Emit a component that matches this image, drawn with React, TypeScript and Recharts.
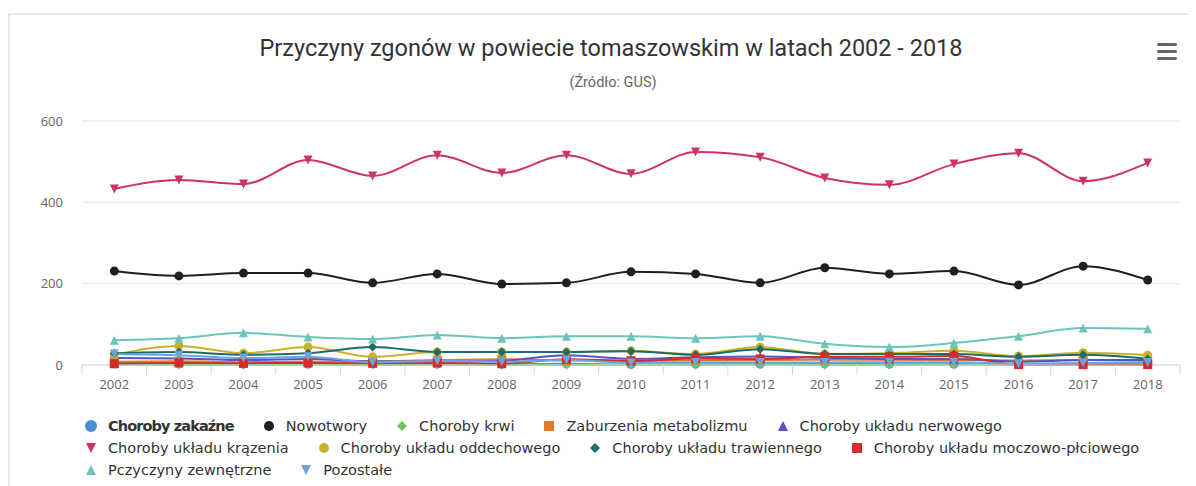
import { LineChart, Line, XAxis, YAxis, CartesianGrid, Legend } from 'recharts'

const years = [2002, 2003, 2004, 2005, 2006, 2007, 2008, 2009, 2010, 2011, 2012, 2013, 2014, 2015, 2016, 2017, 2018]

const zakazne = [5, 3, 2, 2, 3, 2, 2, 3, 1, 2, 2, 3, 2, 2, 2, 3, 2]
const nowotwory = [231, 219, 226, 226, 202, 224, 199, 202, 229, 224, 202, 239, 224, 231, 197, 243, 209]
const krwi = [1, 0, 0, 1, 0, 1, 0, 0, 1, 0, 1, 0, 0, 1, 0, 1, 0]
const metabolizm = [8, 9, 7, 8, 9, 12, 14, 11, 10, 11, 12, 13, 13, 12, 11, 12, 10]
const nerwowy = [17, 16, 12, 15, 9, 8, 10, 24, 15, 19, 21, 18, 15, 15, 8, 12, 12]
const krazenia = [433, 455, 445, 504, 465, 516, 472, 516, 470, 524, 511, 460, 443, 494, 521, 452, 497]
const oddechowy = [25, 47, 29, 44, 20, 32, 32, 32, 35, 27, 44, 27, 29, 35, 22, 30, 24]
const trawienny = [29, 32, 25, 29, 44, 32, 32, 32, 34, 25, 39, 27, 27, 27, 20, 25, 15]
const moczowy = [3, 5, 4, 5, 4, 5, 3, 14, 10, 16, 15, 20, 20, 22, 1, 1, 1]
const zewnetrzne = [61, 66, 79, 69, 64, 74, 66, 71, 71, 66, 71, 52, 44, 54, 71, 91, 89]
const pozostale = [27, 24, 17, 20, 7, 10, 8, 12, 5, 6, 6, 6, 7, 7, 3, 5, 6]

const yTicks = [0, 200, 400, 600]

type Shape = 'circle' | 'diamond' | 'square' | 'triangle' | 'triangle-down'

const SERIES: { key: string; name: string; color: string; shape: Shape; values: number[]; bold?: boolean }[] = [
  { key: 'zakazne', name: 'Choroby zakaźne', color: '#4a8fd6', shape: 'circle', values: zakazne, bold: true },
  { key: 'nowotwory', name: 'Nowotwory', color: '#1f1f1f', shape: 'circle', values: nowotwory },
  { key: 'krwi', name: 'Choroby krwi', color: '#6acb5c', shape: 'diamond', values: krwi },
  { key: 'metabolizm', name: 'Zaburzenia metabolizmu', color: '#e07a2a', shape: 'square', values: metabolizm },
  { key: 'nerwowy', name: 'Choroby układu nerwowego', color: '#5454c8', shape: 'triangle', values: nerwowy },
  { key: 'krazenia', name: 'Choroby układu krązenia', color: '#cf3461', shape: 'triangle-down', values: krazenia },
  { key: 'oddechowy', name: 'Choroby układu oddechowego', color: '#c9b22a', shape: 'circle', values: oddechowy },
  { key: 'trawienny', name: 'Choroby układu trawiennego', color: '#1d6b6b', shape: 'diamond', values: trawienny },
  { key: 'moczowy', name: 'Choroby układu moczowo-płciowego', color: '#d42c2c', shape: 'square', values: moczowy },
  { key: 'zewnetrzne', name: 'Pczyczyny zewnętrzne', color: '#6cc5bb', shape: 'triangle', values: zewnetrzne },
  { key: 'pozostale', name: 'Pozostałe', color: '#6aa6de', shape: 'triangle-down', values: pozostale },
]

const data = years.map((year, i) => {
  const row: Record<string, number> = { year }
  SERIES.forEach(s => { row[s.key] = s.values[i] })
  return row
})

// boundaries between categories, for the tick marks
const xTicks = [years[0] - 0.5, ...years.flatMap(y => [y, y + 0.5])]

const FONT = '"Open Sans", "DejaVu Sans", sans-serif'
const TITLE_FONT = 'Roboto, sans-serif'

function markerPath(shape: Shape, cx: number, cy: number, r: number) {
  switch (shape) {
    case 'diamond':
      return `M${cx},${cy - r}L${cx + r},${cy}L${cx},${cy + r}L${cx - r},${cy}Z`
    case 'square':
      return `M${cx - r},${cy - r}H${cx + r}V${cy + r}H${cx - r}Z`
    case 'triangle':
      return `M${cx},${cy - r}L${cx + r},${cy + r}L${cx - r},${cy + r}Z`
    case 'triangle-down':
      return `M${cx - r},${cy - r}L${cx + r},${cy - r}L${cx},${cy + r}Z`
    default:
      return ''
  }
}

const Marker = ({ cx, cy, shape, color, r }: { cx: number; cy: number; shape: Shape; color: string; r: number }) => {
  if (cx == null || cy == null) return null
  if (shape === 'circle') return <circle cx={cx} cy={cy} r={r} fill={color} />
  return <path d={markerPath(shape, cx, cy, r)} fill={color} />
}

const XTick = ({ x, y, payload }: any) => {
  const v = payload.value
  if (Number.isInteger(v)) {
    return (
      <text x={x} y={y + 24} textAnchor="middle" fill="#666" fontSize={13} fontFamily={FONT}>
        {v}
      </text>
    )
  }
  return <line x1={x} x2={x} y1={y} y2={y + 10} stroke="#ccd6eb" />
}

const renderLegend = () => (
  <div style={{ display: 'flex', flexWrap: 'wrap', rowGap: 5, fontFamily: '"DejaVu Sans", sans-serif', fontSize: 14.5, color: '#333' }}>
    {SERIES.map(s => (
      <div
        key={s.key}
        style={{
          display: 'flex', alignItems: 'center', marginRight: 29, height: 17,
          fontWeight: s.bold ? 700 : 400, letterSpacing: s.bold ? -0.9 : 0,
        }}
      >
        <svg width={12} height={12} style={{ marginRight: 11 }}>
          <Marker cx={6} cy={6} shape={s.shape} color={s.color} r={s.shape === 'circle' && s.bold ? 6 : 5} />
        </svg>
        {s.name}
      </div>
    ))}
  </div>
)

export default function App() {
  return (
    <div style={{ paddingTop: 5 }}>
      <div style={{ position: 'relative', width: 1186, height: 471, borderLeft: '2px solid #e8e8e8', borderTop: '2px solid #e8e8e8', background: '#fff' }}>
        <div style={{ position: 'absolute', left: 16, width: 1170, top: 20, textAlign: 'center', fontFamily: TITLE_FONT, fontSize: 23.5, lineHeight: '26px', color: '#333' }}>
          Przyczyny zgonów w powiecie tomaszowskim w latach 2002 - 2018
        </div>
        <div style={{ position: 'absolute', left: 18, width: 1170, top: 59, textAlign: 'center', fontFamily: TITLE_FONT, fontSize: 14.5, lineHeight: '18px', color: '#666' }}>
          (Źródło: GUS)
        </div>
        <div style={{ position: 'absolute', left: 1147, top: 28 }}>
          {[0, 1, 2].map(i => (
            <div key={i} style={{ width: 20, height: 3, borderRadius: 1.5, background: '#666', marginBottom: 4 }} />
          ))}
        </div>
        <LineChart width={1186} height={471} data={data} margin={{ top: 106, right: 16, left: 32, bottom: 91 }}>
          <CartesianGrid vertical={false} stroke="#e6e6e6" />
          <XAxis
            dataKey="year"
            type="number"
            domain={[years[0] - 0.5, years[years.length - 1] + 0.5]}
            ticks={xTicks}
            interval={0}
            tick={<XTick />}
            tickLine={false}
            tickSize={0}
            tickMargin={0}
            stroke="#ccd6eb"
            height={30}
          />
          <YAxis
            domain={[0, 600]}
            ticks={yTicks}
            width={40}
            axisLine={false}
            tickLine={false}
            tickSize={0}
            tickMargin={19}
            tick={{ fontSize: 13, fill: '#666', fontFamily: FONT }}
          />
          <Legend
            layout="horizontal"
            verticalAlign="middle"
            align="center"
            content={renderLegend}
            wrapperStyle={{ top: 402, left: 75, width: 1100 }}
          />
          {SERIES.map(s => (
            <Line
              key={s.key}
              type="monotone"
              dataKey={s.key}
              name={s.name}
              stroke={s.color}
              strokeWidth={2}
              isAnimationActive={false}
              dot={(p: any) => <Marker key={`${s.key}-${p.index}`} cx={p.cx} cy={p.cy} shape={s.shape} color={s.color} r={4.5} />}
              activeDot={false}
            />
          ))}
        </LineChart>
      </div>
    </div>
  )
}
